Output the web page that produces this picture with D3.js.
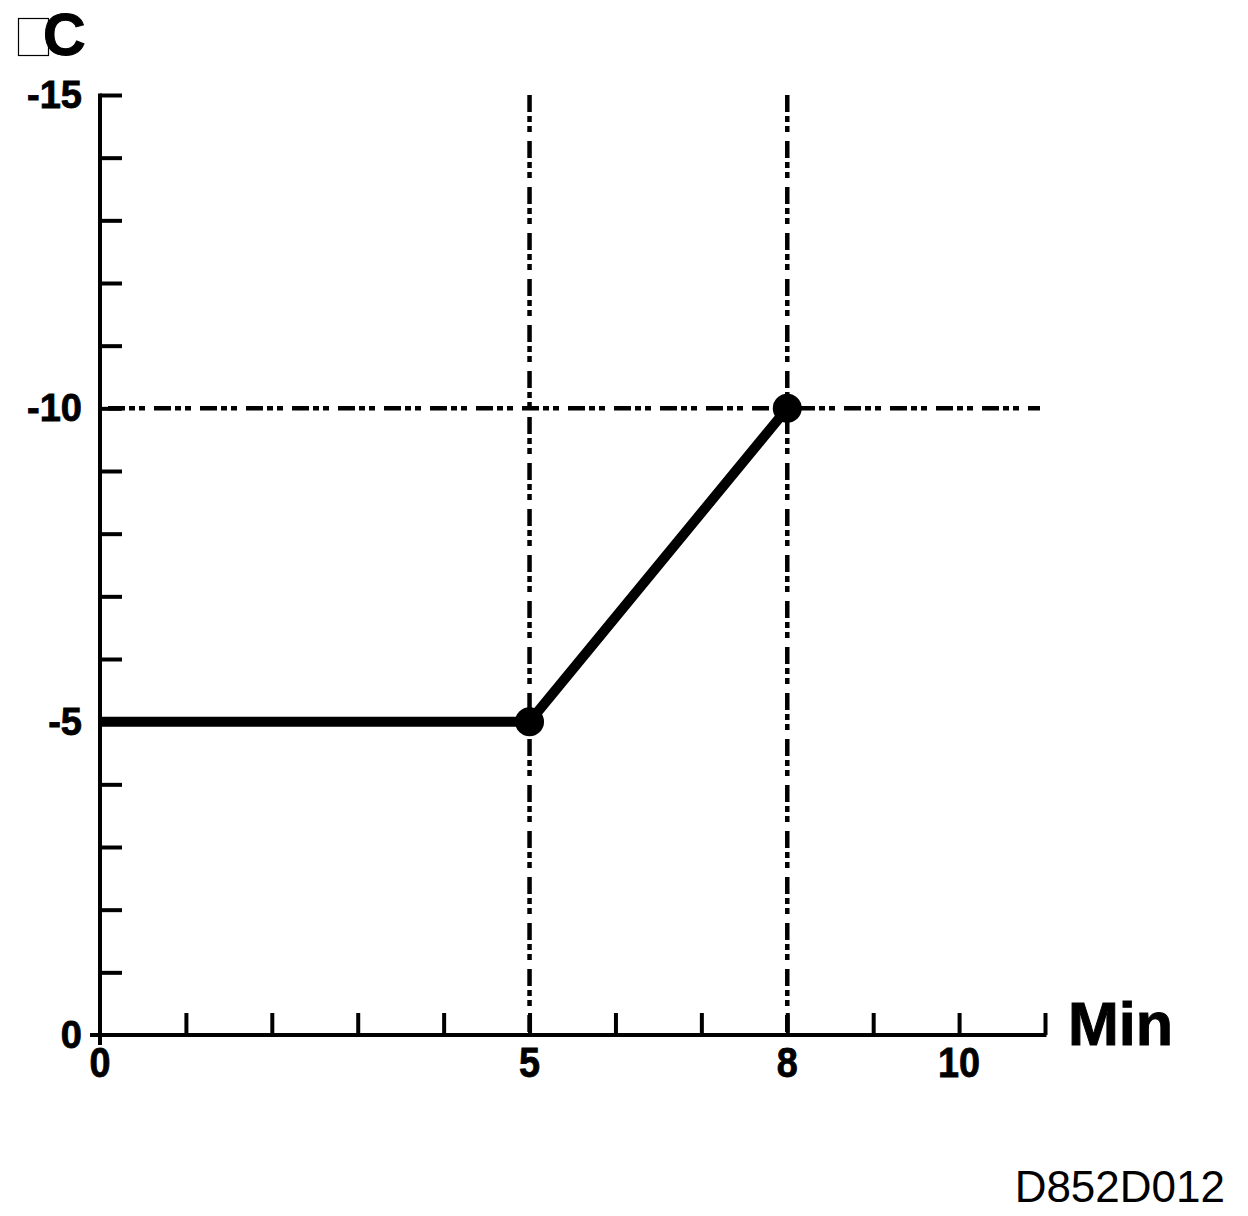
<!DOCTYPE html>
<html><head><meta charset="utf-8">
<script src="https://cdn.jsdelivr.net/npm/d3@7"></script>
<style>
body{margin:0;background:#fff;}
svg{display:block;}
text{font-family:"Liberation Sans",Arial,sans-serif;fill:#000;}
</style></head>
<body>
<script>
const xValues = [0, 5, 8];
const yValues = [-5, -5, -10];
const markerX = [5, 8];
const markerY = [-5, -10];
const refVertical = [5, 8];
const refHorizontal = [-10];
const xTickLabels = [0, 5, 8, 10];
const yTickLabels = [0, -5, -10, -15];
const xMinorTicks = [1,2,3,4,5,6,7,8,9,10,11];
const yMinorTicks = [-1,-2,-3,-4,-5,-6,-7,-8,-9,-10,-11,-12,-13,-14,-15];
const unitLabel = "C";
const xAxisTitle = "Min";
const figureCode = "D852D012";

const W = 1248, H = 1216;
const svg = d3.select("body").append("svg").attr("width", W).attr("height", H);

const x = d3.scaleLinear().domain([0, 11]).range([100, 1045]);
const y = d3.scaleLinear().domain([0, -15]).range([1035, 95]);

const dash = "17,4,6,4,6,9";

// reference dash-dot-dot lines
svg.selectAll(".vref").data(refVertical).join("line")
  .attr("x1", d => x(d)).attr("x2", d => x(d))
  .attr("y1", y(-15)).attr("y2", y(0))
  .attr("stroke", "#000").attr("stroke-width", 4.5)
  .attr("stroke-dasharray", dash);
svg.selectAll(".href").data(refHorizontal).join("line")
  .attr("x1", x(0) + 8).attr("x2", 1040)
  .attr("y1", d => y(d)).attr("y2", d => y(d))
  .attr("stroke", "#000").attr("stroke-width", 4.5)
  .attr("stroke-dasharray", dash);

// axes lines
svg.append("line").attr("x1", x(0)).attr("x2", x(0))
  .attr("y1", y(-15) - 1.5).attr("y2", y(0) + 10)
  .attr("stroke", "#000").attr("stroke-width", 4);
svg.append("line").attr("x1", x(0) - 10).attr("x2", x(11) + 1.5)
  .attr("y1", y(0)).attr("y2", y(0))
  .attr("stroke", "#000").attr("stroke-width", 4);

// y minor ticks via axis
const yAxis = d3.axisRight(y).tickValues(yMinorTicks).tickSize(22).tickFormat("");
const gy = svg.append("g").attr("transform", `translate(${x(0)},0)`).call(yAxis);
gy.select(".domain").remove();
gy.selectAll(".tick line").attr("stroke", "#000").attr("stroke-width", 4);

// x minor ticks via axis
const xAxis = d3.axisTop(x).tickValues(xMinorTicks).tickSize(22).tickFormat("");
const gx = svg.append("g").attr("transform", `translate(0,${y(0)})`).call(xAxis);
gx.select(".domain").remove();
gx.selectAll(".tick line").attr("stroke", "#000").attr("stroke-width", 4);

// y tick labels
svg.selectAll(".ylab").data(yTickLabels).join("text")
  .attr("x", 82).attr("y", d => y(d) + 13)
  .attr("text-anchor", "end")
  .attr("font-size", 38).attr("font-weight", "bold")
  .attr("stroke", "#000").attr("stroke-width", 0.8)
  .text(d => d);

// x tick labels
svg.selectAll(".xlab").data(xTickLabels).join("text")
  .attr("transform", d => `translate(${x(d)},1077) scale(0.9,1)`)
  .attr("text-anchor", "middle")
  .attr("font-size", 42).attr("font-weight", "bold")
  .attr("stroke", "#000").attr("stroke-width", 0.8)
  .text(d => d);

// data line
const line = d3.line().x((d, i) => x(xValues[i])).y((d, i) => y(yValues[i]));
svg.append("path").datum(xValues).attr("d", line)
  .attr("fill", "none").attr("stroke", "#000").attr("stroke-width", 10)
  .attr("stroke-linejoin", "miter");

svg.selectAll(".mk").data(markerX).join("circle")
  .attr("cx", d => x(d)).attr("cy", (d, i) => y(markerY[i]))
  .attr("r", 14.5).attr("fill", "#000");

// unit label (missing-glyph box + C)
svg.append("rect").attr("x", 18.5).attr("y", 18.5).attr("width", 30).attr("height", 37)
  .attr("fill", "#fff").attr("stroke", "#000").attr("stroke-width", 1.2);
svg.append("text").attr("x", 43).attr("y", 55)
  .attr("font-size", 59).attr("font-weight", "bold")
  .attr("stroke", "#000").attr("stroke-width", 1).text(unitLabel);

// x axis title
svg.append("text").attr("x", 1068).attr("y", 1045)
  .attr("font-size", 61).attr("font-weight", "bold")
  .attr("stroke", "#000").attr("stroke-width", 1).text(xAxisTitle);

// figure code
svg.append("text").attr("x", 1225).attr("y", 1202).attr("text-anchor", "end")
  .attr("font-size", 44).text(figureCode);
</script>
</body></html>
